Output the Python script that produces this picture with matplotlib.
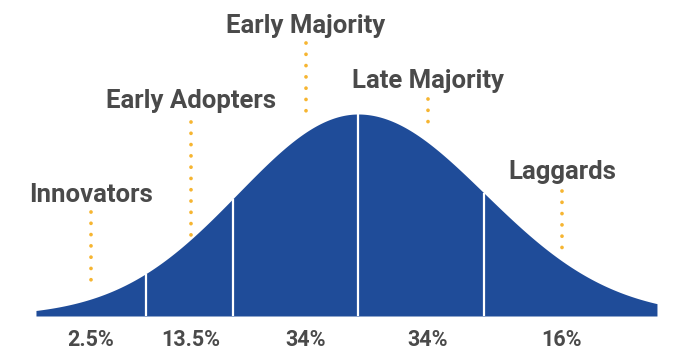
import numpy as np
import matplotlib.pyplot as plt

# adopter groups, left to right
groups = ["Innovators", "Early Adopters", "Early Majority", "Late Majority", "Laggards"]
shares = ["2.5%", "13.5%", "34%", "34%", "16%"]

# curve extent and segment boundaries (in standard deviations)
curve_start, curve_end = -2.597, 2.411
boundaries = [-1.71, -1.008, 0.0, 1.016]
# the drawn curve is a little narrower on the left than on the right
width_left, width_right = 0.968, 1.02

# label column positions and heights (relative to curve peak)
label_x = [-2.153, -1.347, -0.419, 0.565, 1.645]
label_y = [0.564, 1.030, 1.401, 1.129, 0.678]
dot_top = [0.515, 0.960, 1.351, 1.074, 0.619]
dot_bottom = [0.139, 0.371, 1.005, 0.911, 0.292]
share_y = -0.15

blue = "#1f4c99"
gold = "#f6b531"
grey = "#4a4a4a"
font = ["Roboto", "DejaVu Sans"]


def bell(z):
    z = np.asarray(z, dtype=float)
    w = np.where(z < 0, width_left, width_right)
    return np.exp(-0.5 * (z / w) ** 2)


fig = plt.figure(figsize=(7, 3.62), dpi=100)
ax = fig.add_axes([0, 0, 1, 1])

z = np.linspace(curve_start, curve_end, 600)
ax.fill_between(z, 0, bell(z), color=blue, lw=0)

# white dividers between the groups
for b in boundaries:
    ax.plot([b, b], [0, bell(b)], color="white", lw=1.6, solid_capstyle="butt")

for name, pct, x, y, t, bt in zip(groups, shares, label_x, label_y, dot_top, dot_bottom):
    ax.text(x, y, name, ha="center", va="baseline", fontsize=18.5,
            fontweight="bold", color=grey, family=font)
    ax.plot([x, x], [t, bt], color=gold, lw=2.7,
            linestyle=(0, (0.01, 3.0)), dash_capstyle="round")
    ax.text(x, share_y, pct, ha="center", va="baseline", fontsize=15.5,
            fontweight="bold", color=grey, family=font)

ax.set_xlim(-358 / 124, 342 / 124)
ax.set_ylim(-46 / 202, 316 / 202)
ax.axis("off")

fig.savefig("out.png", dpi=100, facecolor="white")
